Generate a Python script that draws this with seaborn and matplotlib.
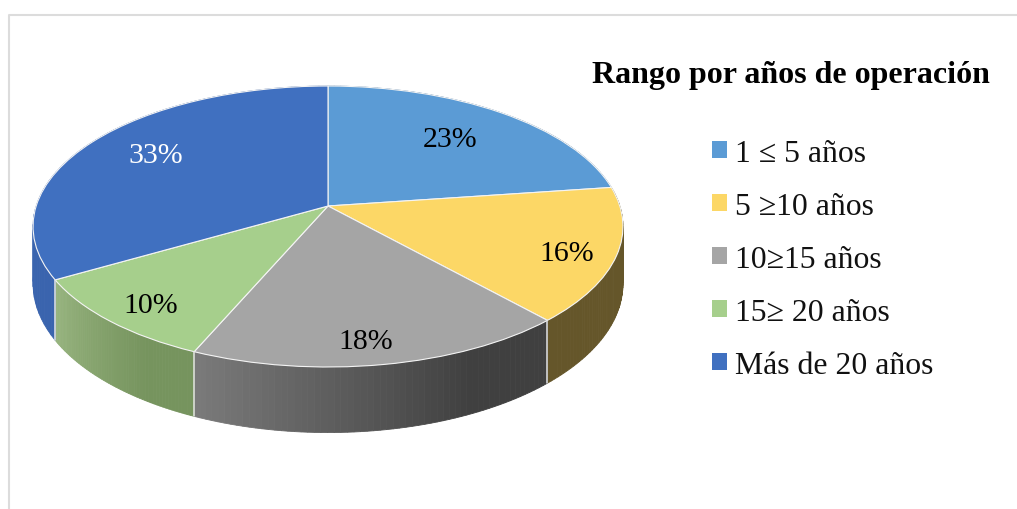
import numpy as np
import matplotlib
matplotlib.use('Agg')
import matplotlib.pyplot as plt
from matplotlib.patches import Patch
from matplotlib.path import Path
from matplotlib.transforms import Transform
import seaborn as sns

title = 'Rango por años de operación'
categories = ['1 ≤ 5 años', '5 ≥10 años', '10≥15 años', '15≥ 20 años', 'Más de 20 años']
# estimated from the slice boundaries, the labels show them rounded
shares = [22.8, 15.5, 18.2, 10.2, 33.3]
top_colors = ['#5B9BD5', '#FCD766', '#A5A5A5', '#A6CF8C', '#4070C0']
side_left = ['#3A6E9E', '#65562A', '#7A7A7A', '#97B47F', '#2F5A9E']
side_right = ['#3A6E9E', '#65562A', '#404040', '#76945E', '#3A64AE']
label_colors = ['black', 'black', 'black', 'black', 'white']
label_pos = [(450, 140), (567, 254), (366, 342), (151, 306), (156, 156)]

# pie centre and tilt, in pixels
CX, CY = 328, 207
RX, RY, TILT = 291.8, 137.5, 0.1459
DEPTH = 56


class Tilt(Transform):
    input_dims = output_dims = 2

    def transform_non_affine(self, values):
        values = np.asarray(values)
        den = 1 + TILT * values[:, 1]
        return np.column_stack([CX + RX * values[:, 0] / den, CY - RY * values[:, 1] / den])

    def transform_path_non_affine(self, path):
        return Path(self.transform_non_affine(path.vertices), path.codes)


sns.set_theme(style='white')
plt.rcParams['font.family'] = ['Liberation Serif', 'DejaVu Serif']

fig = plt.figure(figsize=(10.17, 5.10), dpi=100)
ax = fig.add_axes([0, 0, 1, 1])
tilt = Tilt()

# side wall first, the top covers whatever is behind it
edges = np.cumsum([0] + shares) / 100
for i in range(len(shares)):
    a = np.radians(90 - 360 * np.linspace(edges[i], edges[i + 1], 60))
    c0 = np.array(matplotlib.colors.to_rgb(side_left[i]))
    c1 = np.array(matplotlib.colors.to_rgb(side_right[i]))
    xy = np.column_stack([np.cos(a), np.sin(a)])
    top = tilt.transform_non_affine(xy)
    low = top + np.column_stack([np.zeros(60), DEPTH / (1 + TILT * xy[:, 1])])
    # slices run clockwise, so the front goes right to left
    for j in range(59):
        t = min(1, (1 - j / 58) * 1.35)
        col = c0 + (c1 - c0) * t
        ax.fill([top[j, 0], top[j + 1, 0], low[j + 1, 0], low[j, 0]],
                [top[j, 1], top[j + 1, 1], low[j + 1, 1], low[j, 1]],
                color=col, lw=0.6)
    if i in (1, 2, 3):
        ax.plot([top[-1, 0], low[-1, 0]], [top[-1, 1], low[-1, 1]], color='#E4E4E4', lw=1.1)

wedges, _ = ax.pie(shares, colors=sns.color_palette(top_colors), startangle=90, counterclock=False,
                   wedgeprops={'edgecolor': '#F4F4F4', 'linewidth': 0.8})
for w in wedges:
    w.set_transform(tilt + ax.transData)

ax.set_aspect('auto')
ax.set_xlim(0, 1017)
ax.set_ylim(510, 0)
ax.axis('off')

for share, pos, col in zip(shares, label_pos, label_colors):
    ax.text(pos[0], pos[1], f'{share:.0f}%', color=col, fontsize=21.5, ha='center', va='center')

ax.text(791, 76, title, fontsize=23, fontweight='bold', color='black', ha='center', va='center')

handles = [Patch(facecolor=c, edgecolor='none') for c in top_colors]
ax.legend(handles, categories, loc='upper left', bbox_to_anchor=(712, 140), bbox_transform=ax.transData,
          frameon=False, fontsize=22.9, labelcolor='#111111', handlelength=0.47, handleheight=0.47,
          handletextpad=0.26, labelspacing=0.755, borderpad=0, borderaxespad=0)

# leftover frame of the pasted picture
ax.plot([8.5, 8.5, 1017], [510, 15.5, 15.5], color='#DCDCDC', lw=1.5)

plt.savefig('out.png', dpi=100)
